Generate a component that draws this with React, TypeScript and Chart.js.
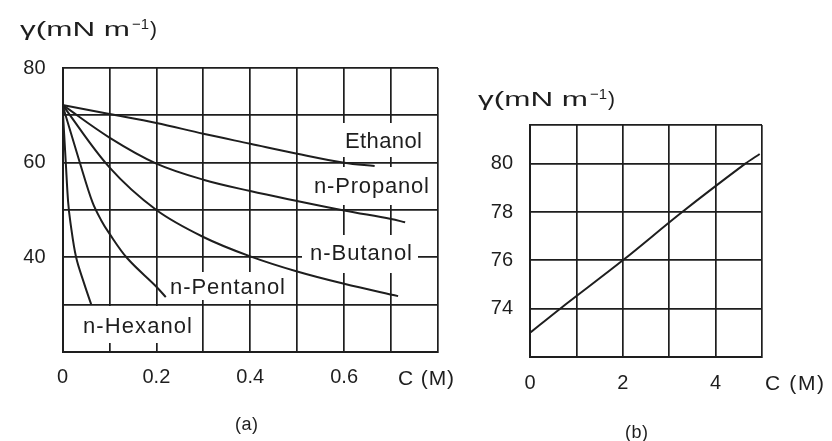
import React, { useEffect, useRef } from 'react';
import { Chart, registerables } from 'chart.js';

Chart.register(...registerables);

// ---------- Panel (a): surface tension vs concentration for alcohols ----------
const ethanolC = [0, 0.1, 0.2, 0.3, 0.4, 0.5, 0.6, 0.665];
const ethanolG = [72.2, 70.3, 68.4, 66.1, 64.0, 61.9, 60.0, 59.3];
const propanolC = [0, 0.1, 0.2, 0.3, 0.4, 0.5, 0.6, 0.7, 0.73];
const propanolG = [72.2, 65.3, 59.8, 56.4, 54.0, 51.9, 49.9, 48.1, 47.4];
const butanolC = [0, 0.1, 0.2, 0.3, 0.4, 0.5, 0.6, 0.715];
const butanolG = [72.2, 59.0, 50.0, 44.3, 40.2, 37.0, 34.4, 31.8];
const pentanolC = [0, 0.037, 0.064, 0.082, 0.1, 0.138, 0.2, 0.22];
const pentanolG = [72.2, 60.0, 51.6, 47.9, 45.0, 39.8, 33.8, 31.6];
const hexanolC = [0, 0.007, 0.012, 0.017, 0.029, 0.046, 0.061];
const hexanolG = [72.2, 60.0, 51.7, 47.3, 40.0, 34.5, 30.1];

const xTicksA = [0, 0.1, 0.2, 0.3, 0.4, 0.5, 0.6, 0.7, 0.8];
const xLabelsA = ['0', '', '0.2', '', '0.4', '', '0.6', '', ''];
const yTicksA = [20, 30, 40, 50, 60, 70, 80];
const yLabelsA = ['', '', '40', '', '60', '', '80'];
const seriesNamesA = ['Ethanol', 'n-Propanol', 'n-Butanol', 'n-Pentanol', 'n-Hexanol'];

// ---------- Panel (b) ----------
const bC = [0, 0.65, 2, 3.28, 4.64, 4.95];
const bG = [73.0, 74.0, 76.0, 78.0, 80.0, 80.4];
const xTicksB = [0, 1, 2, 3, 4, 5];
const xLabelsB = ['0', '', '2', '', '4', ''];
const yTicksB = [72, 74, 76, 78, 80, 81.6];
const yLabelsB = ['', '74', '76', '78', '80', ''];

const yTitle = 'γ(mN m';
const ySup = '−1';
const xTitle = 'C (M)';

const INK = '#1e1e1e';
const FONT = '"Liberation Sans", Arial, Helvetica, sans-serif';

const pts = (xs: number[], ys: number[]) => xs.map((x, i) => ({ x, y: ys[i] }));

function drawFit(ctx: CanvasRenderingContext2D, text: string, x: number, y: number, width: number, size: number) {
  ctx.save();
  ctx.font = `${size}px ${FONT}`;
  (ctx as any).letterSpacing = '0px';
  const w = ctx.measureText(text).width;
  const ls = text.length > 1 ? (width - w) / (text.length - 1) : 0;
  (ctx as any).letterSpacing = `${ls}px`;
  ctx.textAlign = 'left';
  ctx.textBaseline = 'middle';
  ctx.fillStyle = INK;
  ctx.fillText(text, x, y);
  ctx.restore();
}

function drawStretch(ctx: CanvasRenderingContext2D, text: string, x: number, y: number, width: number, size: number) {
  ctx.save();
  ctx.font = `${size}px ${FONT}`;
  const w = ctx.measureText(text).width;
  ctx.translate(x, y);
  ctx.scale(width / w, 1);
  ctx.textAlign = 'left';
  ctx.textBaseline = 'middle';
  ctx.fillStyle = INK;
  ctx.fillText(text, 0, 0);
  ctx.restore();
}

function drawYTitle(ctx: CanvasRenderingContext2D, x: number, y: number) {
  drawStretch(ctx, yTitle, x, y, 110, 21);
  drawStretch(ctx, ySup, x + 112, y - 5, 17, 15);
  drawStretch(ctx, ')', x + 130, y, 7, 21);
}

function scaleOpts(ticks: number[], labels: string[], padding: number, fit: (s: any) => void) {
  return {
    type: 'linear' as const,
    min: ticks[0],
    max: ticks[ticks.length - 1],
    afterBuildTicks: (s: any) => {
      s.ticks = ticks.map((v) => ({ value: v }));
    },
    afterFit: fit,
    grid: { color: INK, lineWidth: 1.7, drawTicks: false },
    border: { display: true, color: INK, width: 2 },
    ticks: {
      autoSkip: false,
      maxRotation: 0,
      padding,
      color: INK,
      font: { family: FONT, size: 20 },
      callback: (_v: any, i: number) => labels[i],
    },
  };
}

type Box = { text: string; bx: number; by: number; bw: number; bh: number; tx: number; ty: number; tw: number };
const boxesA: Box[] = [
  { text: seriesNamesA[0], bx: 339, by: 123, bw: 92, bh: 34, tx: 345, ty: 142, tw: 77 },
  { text: seriesNamesA[1], bx: 308, by: 167, bw: 127, bh: 38, tx: 314, ty: 187, tw: 115 },
  { text: seriesNamesA[2], bx: 302, by: 235, bw: 116, bh: 38, tx: 310, ty: 254, tw: 102 },
  { text: seriesNamesA[3], bx: 165, by: 272, bw: 127, bh: 28, tx: 170, ty: 288, tw: 115 },
  { text: seriesNamesA[4], bx: 78, by: 306, bw: 118, bh: 37, tx: 83, ty: 327, tw: 109 },
];

const decorA = {
  id: 'decorA',
  beforeDatasetsDraw(chart: any) {
    const ctx = chart.ctx as CanvasRenderingContext2D;
    ctx.save();
    ctx.fillStyle = '#ffffff';
    boxesA.forEach((b) => ctx.fillRect(b.bx, b.by, b.bw, b.bh));
    ctx.restore();
    boxesA.forEach((b) => drawFit(ctx, b.text, b.tx, b.ty, b.tw, 22));
  },
  afterDraw(chart: any) {
    const ctx = chart.ctx as CanvasRenderingContext2D;
    drawYTitle(ctx, 20, 30);
    drawFit(ctx, xTitle, 398, 379, 56, 21);
    drawFit(ctx, '(a)', 235, 425, 23, 18);
  },
};

const decorB = {
  id: 'decorB',
  afterDraw(chart: any) {
    const ctx = chart.ctx as CanvasRenderingContext2D;
    drawYTitle(ctx, 18, 100);
    drawFit(ctx, xTitle, 305, 384, 59, 21);
    drawFit(ctx, '(b)', 165, 433, 23, 18);
  },
};

const lineDs = (data: any[]) => ({
  data,
  borderColor: INK,
  borderWidth: 2,
  pointRadius: 0,
  fill: false,
  tension: 0.35,
});

export default function App() {
  const refA = useRef<HTMLCanvasElement>(null);
  const refB = useRef<HTMLCanvasElement>(null);

  useEffect(() => {
    document.body.style.margin = '0';
    const chartA = new Chart(refA.current!, {
      type: 'line',
      data: {
        datasets: [
          lineDs(pts(ethanolC, ethanolG)),
          lineDs(pts(propanolC, propanolG)),
          lineDs(pts(butanolC, butanolG)),
          lineDs(pts(pentanolC, pentanolG)),
          lineDs(pts(hexanolC, hexanolG)),
        ],
      },
      options: {
        animation: false,
        responsive: false,
        events: [],
        layout: { padding: { left: 0, right: 22, top: 68, bottom: 0 } },
        plugins: { legend: { display: false }, tooltip: { enabled: false } },
        scales: {
          x: scaleOpts(xTicksA, xLabelsA, 13, (s: any) => { s.height = 89; }),
          y: scaleOpts(yTicksA, yLabelsA, 17, (s: any) => { s.width = 62.5; }),
        },
      } as any,
      plugins: [decorA],
    });

    const chartB = new Chart(refB.current!, {
      type: 'line',
      data: { datasets: [lineDs(pts(bC, bG))] },
      options: {
        animation: false,
        responsive: false,
        events: [],
        layout: { padding: { left: 0, right: 70, top: 125, bottom: 0 } },
        plugins: { legend: { display: false }, tooltip: { enabled: false } },
        scales: {
          x: scaleOpts(xTicksB, xLabelsB, 14, (s: any) => { s.height = 84; }),
          y: scaleOpts(yTicksB, yLabelsB, 17, (s: any) => { s.width = 70; }),
        },
      } as any,
      plugins: [decorB],
    });

    return () => {
      chartA.destroy();
      chartB.destroy();
    };
  }, []);

  return (
    <div style={{ position: 'absolute', left: 0, top: 0, width: 832, height: 441, background: '#ffffff' }}>
      <canvas ref={refA} width={460} height={441} style={{ position: 'absolute', left: 0, top: 0, width: 460, height: 441 }} />
      <canvas ref={refB} width={372} height={441} style={{ position: 'absolute', left: 460, top: 0, width: 372, height: 441 }} />
    </div>
  );
}
